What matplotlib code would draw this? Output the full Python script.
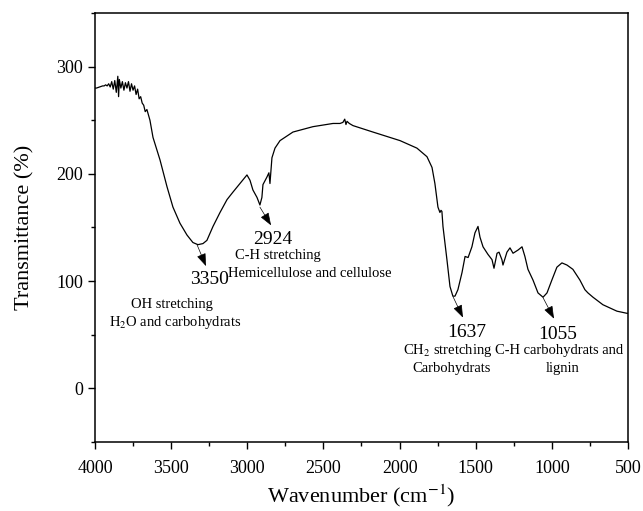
import matplotlib
matplotlib.use('Agg')
import numpy as np
import matplotlib.pyplot as plt
from matplotlib.ticker import MultipleLocator

plt.rcParams['font.family'] = ['Liberation Serif', 'DejaVu Serif']
plt.rcParams['mathtext.fontset'] = 'stix'

# FTIR spectrum (wavenumber cm-1, transmittance %)
wavenumber = [4000, 3990, 3980, 3970, 3960, 3950, 3940, 3930, 3920, 3910,
              3900, 3890, 3880, 3870, 3860, 3850, 3845, 3840, 3830, 3820,
              3810, 3800, 3790, 3780, 3770, 3760, 3750, 3740, 3730, 3720,
              3710, 3700, 3690, 3680, 3670, 3659, 3639, 3619, 3573, 3527,
              3488, 3442, 3396, 3357, 3324, 3291, 3265, 3225, 3179, 3133,
              3094, 3048, 3002, 2982, 2963, 2936, 2917, 2904, 2897, 2871,
              2858, 2851, 2838, 2818, 2785, 2700, 2569, 2437, 2391, 2372,
              2360, 2352, 2345, 2330, 2306, 2175, 1997, 1886, 1820, 1787,
              1768, 1748, 1735, 1728, 1722, 1715, 1689, 1669, 1650, 1636,
              1617, 1590, 1570, 1550, 1525, 1505, 1485, 1472, 1452, 1420,
              1393, 1380, 1360, 1347, 1328, 1321, 1295, 1275, 1255, 1222,
              1196, 1177, 1157, 1124, 1091, 1058, 1032, 1000, 967, 934,
              901, 862, 816, 783, 763, 730, 665, 573, 507, 500]
transmittance = [280, 280, 280.5, 281, 281.5, 282, 282, 283, 282, 284,
                 281, 286, 279, 287, 276, 291, 272, 288, 280, 286,
                 278, 285, 280, 286, 277, 284, 278, 282, 274, 279,
                 270, 272, 266, 264, 258, 260, 250, 234, 213, 188,
                 169, 154, 143, 136, 134, 135, 138, 151, 164, 176,
                 183, 191, 199, 194, 185, 178, 171, 178, 190, 197,
                 201, 191, 215, 224, 231, 239, 244, 247, 247, 248,
                 251, 246, 249, 247, 245, 239, 231, 224, 216, 206,
                 191, 169, 164, 166, 165, 151, 120, 95, 86, 86,
                 92, 108, 123, 122, 132, 145, 151, 141, 132, 125,
                 120, 112, 126, 127, 120, 115, 127, 131, 126, 129,
                 132, 123, 111, 101, 89, 85, 89, 101, 113, 117,
                 115, 111, 101, 92, 89, 85, 78, 72, 70, 70]

# band annotations: arrow start, arrow tip, label position, label text
peak_labels = ['3350', '2924', '1637', '1055']
arrow_start = [(3330, 134), (2917, 169), (1649, 85.5), (1058, 84.6)]
arrow_tip = [(3271, 114), (2844, 152), (1584, 66), (986, 65)]
peak_label_pos = [(3245, 101.5), (2831, 138.5), (1557, 52.5), (960, 50.5)]

band_texts = ['OH stretching', 'H$_2$O and carbohydrats',
              'C-H stretching', 'Hemicellulose and cellulose',
              'CH$_2$ stretching', 'Carbohydrats',
              'C-H carbohydrats and', 'lignin']
band_text_pos = [(3494, 78.5), (3475, 61.5),
                 (2798, 124), (2588, 107.5),
                 (1682, 35.5), (1656, 18.5),
                 (953, 35.5), (927, 18.5)]

fig = plt.figure(figsize=(6.43, 5.11), dpi=100)
ax = fig.add_axes([0.1477, 0.135, 0.829, 0.8396])

ax.plot(wavenumber, transmittance, color='black', lw=0.9)

for lab, s, t, p in zip(peak_labels, arrow_start, arrow_tip, peak_label_pos):
    ax.annotate('', xy=t, xytext=s,
                arrowprops=dict(arrowstyle='-|>,head_length=0.6,head_width=0.22',
                                color='black', lw=0.5, mutation_scale=13,
                                shrinkA=0, shrinkB=0))
    ax.text(p[0], p[1], lab, fontsize=14, ha='center', va='center')

for txt, p in zip(band_texts, band_text_pos):
    ax.text(p[0], p[1], txt, fontsize=10.5, ha='center', va='center')

ax.set_xlim(4000, 500)
ax.set_ylim(-50, 350)
ax.xaxis.set_major_locator(MultipleLocator(500))
ax.xaxis.set_minor_locator(MultipleLocator(250))
ax.yaxis.set_major_locator(MultipleLocator(100))
ax.yaxis.set_minor_locator(MultipleLocator(50))
ax.tick_params(which='major', direction='out', length=5, width=1, labelsize=13)
ax.tick_params(axis='x', which='major', pad=8)
ax.tick_params(which='minor', direction='out', length=3, width=1)
for sp in ax.spines.values():
    sp.set_linewidth(1.1)

ax.set_xlabel('Wavenumber (cm$^{-1}$)', fontsize=16, labelpad=4)
ax.set_ylabel('Transmittance (%)', fontsize=16, labelpad=16)

fig.savefig('out.png', dpi=100)
